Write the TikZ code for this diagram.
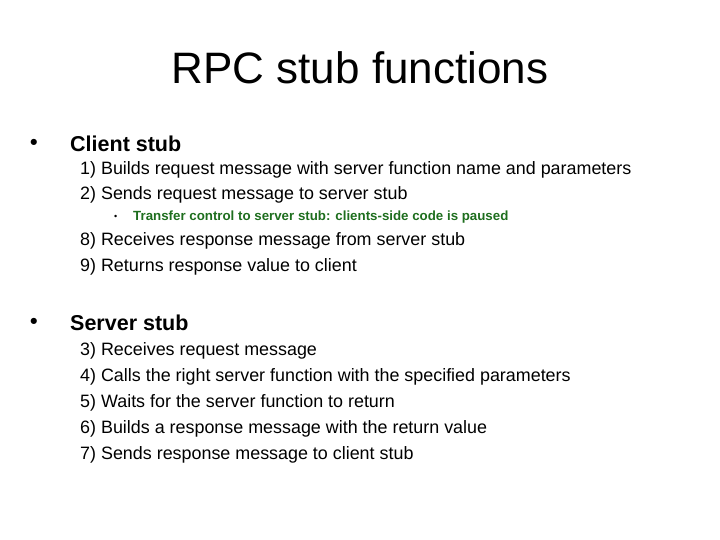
\documentclass[tikz,border=0pt]{standalone}
\usepackage{fontspec}
\setmainfont{Liberation Sans}
\definecolor{lvlgreen}{RGB}{30,110,30}
\begin{document}
\begin{tikzpicture}[x=1pt,y=-1pt,
  lvl1/.style={anchor=west,inner sep=0pt,font=\fontsize{21.5}{25}\selectfont\bfseries},
  lvl2/.style={anchor=west,inner sep=0pt,font=\fontsize{17.9}{21}\selectfont},
  lvl3/.style={anchor=west,inner sep=0pt,text=lvlgreen,font=\fontsize{13.3}{15}\selectfont\bfseries}]
\useasboundingbox (0,0) rectangle (720,540);
\node[inner sep=0pt,font=\fontsize{44}{52}\selectfont] (title) at (360,68) {RPC stub functions};
\node[lvl1] (b1) at (30,144) {•};
\node[lvl1] (c) at (70,144) {Client stub};
\node[lvl2] (c1) at (80,170) {1) Builds request message with server function name and parameters};
\node[lvl2] (c2) at (80,195) {2) Sends request message to server stub};
\node[lvl3,text=black,font=\fontsize{9}{11}\selectfont] (b3) at (114,217) {•};
\node[lvl3] (c3) at (133,217) {Transfer control to server stub: clients-side code is paused};
\node[lvl2] (c8) at (80,241) {8) Receives response message from server stub};
\node[lvl2] (c9) at (80,267) {9) Returns response value to client};
\node[lvl1] (b2) at (30,323) {•};
\node[lvl1] (s) at (70,323) {Server stub};
\node[lvl2] (s3) at (80,351) {3) Receives request message};
\node[lvl2] (s4) at (80,377) {4) Calls the right server function with the specified parameters};
\node[lvl2] (s5) at (80,403) {5) Waits for the server function to return};
\node[lvl2] (s6) at (80,429) {6) Builds a response message with the return value};
\node[lvl2] (s7) at (80,455) {7) Sends response message to client stub};
\end{tikzpicture}
\end{document}
